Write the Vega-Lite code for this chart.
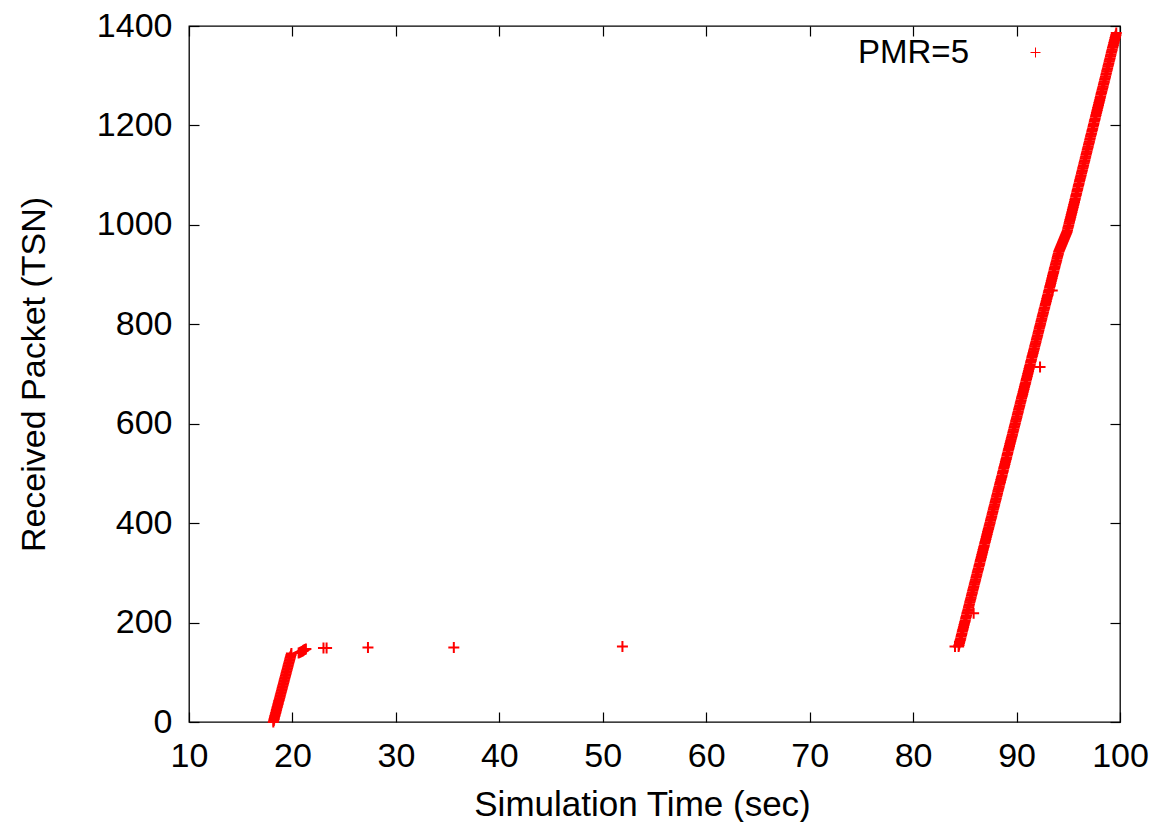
{
  "$schema": "https://vega.github.io/schema/vega-lite/v6.json",
  "width": 931,
  "height": 696,
  "autosize": {"type": "none"},
  "padding": {"left": 189, "top": 26, "right": 36, "bottom": 100},
  "background": "white",
  "config": {
    "view": {"stroke": "black", "strokeWidth": 1.3},
    "axis": {
      "domain": false,
      "grid": false,
      "tickColor": "black",
      "tickSize": -10,
      "tickWidth": 1.2,
      "labelFont": "Liberation Sans",
      "labelFontSize": 34,
      "labelColor": "black",
      "labelPadding": 27,
      "labelFlush": false,
      "labelOverlap": false,
      "format": "d",
      "titleFont": "Liberation Sans",
      "titleFontSize": 34,
      "titleFontWeight": "normal",
      "titleColor": "black"
    }
  },
  "data": {"values": [
    {"t":18.15,"tsn":0},{"t":18.19,"tsn":3},{"t":18.23,"tsn":6},{"t":18.26,"tsn":9},{"t":18.3,"tsn":12},{"t":18.34,"tsn":15},{"t":18.38,"tsn":18},{"t":18.42,"tsn":21},{"t":18.45,"tsn":24},{"t":18.49,"tsn":27},{"t":18.53,"tsn":30},{"t":18.57,"tsn":33},{"t":18.61,"tsn":36},{"t":18.64,"tsn":39},{"t":18.68,"tsn":42},{"t":18.72,"tsn":45},{"t":18.76,"tsn":48},{"t":18.8,"tsn":51},{"t":18.83,"tsn":54},{"t":18.87,"tsn":57},{"t":18.91,"tsn":60},{"t":18.95,"tsn":63},{"t":18.99,"tsn":66},{"t":19.02,"tsn":69},{"t":19.06,"tsn":72},{"t":19.1,"tsn":75},{"t":19.14,"tsn":78},{"t":19.18,"tsn":81},{"t":19.21,"tsn":84},{"t":19.25,"tsn":87},{"t":19.29,"tsn":90},{"t":19.33,"tsn":93},{"t":19.37,"tsn":96},{"t":19.4,"tsn":99},{"t":19.44,"tsn":102},{"t":19.48,"tsn":105},{"t":19.52,"tsn":108},{"t":19.56,"tsn":111},{"t":19.59,"tsn":114},{"t":19.63,"tsn":117},{"t":19.67,"tsn":120},{"t":19.71,"tsn":123},{"t":19.75,"tsn":126},{"t":19.78,"tsn":129},{"t":19.82,"tsn":132},{"t":19.86,"tsn":135},{"t":19.9,"tsn":138},
    {"t":20.6,"tsn":139},{"t":20.7,"tsn":140},{"t":20.8,"tsn":141},{"t":20.9,"tsn":142},{"t":21.0,"tsn":143},{"t":21.05,"tsn":144},{"t":21.1,"tsn":145},{"t":21.2,"tsn":146},{"t":21.3,"tsn":147},
    {"t":23.0,"tsn":149},{"t":23.3,"tsn":149},{"t":27.3,"tsn":150},{"t":35.6,"tsn":150},{"t":51.9,"tsn":152},
    {"t":84.05,"tsn":152},{"t":85.85,"tsn":219},{"t":92.27,"tsn":714},{"t":93.45,"tsn":868},
    {"t":84.4,"tsn":152},{"t":84.44,"tsn":155},{"t":84.48,"tsn":159},{"t":84.52,"tsn":162},{"t":84.56,"tsn":165},{"t":84.6,"tsn":168},{"t":84.64,"tsn":172},{"t":84.68,"tsn":175},{"t":84.72,"tsn":178},{"t":84.76,"tsn":182},
    {"t":84.8,"tsn":185},{"t":84.84,"tsn":188},{"t":84.88,"tsn":191},{"t":84.92,"tsn":195},{"t":84.96,"tsn":198},{"t":85.0,"tsn":201},{"t":85.04,"tsn":204},{"t":85.08,"tsn":208},{"t":85.12,"tsn":211},{"t":85.16,"tsn":214},
    {"t":85.2,"tsn":218},{"t":85.24,"tsn":221},{"t":85.28,"tsn":224},{"t":85.32,"tsn":227},{"t":85.36,"tsn":231},{"t":85.4,"tsn":234},{"t":85.44,"tsn":237},{"t":85.48,"tsn":241},{"t":85.52,"tsn":244},{"t":85.56,"tsn":247},
    {"t":85.6,"tsn":250},{"t":85.64,"tsn":254},{"t":85.68,"tsn":257},{"t":85.72,"tsn":260},{"t":85.76,"tsn":264},{"t":85.8,"tsn":267},{"t":85.84,"tsn":270},{"t":85.88,"tsn":273},{"t":85.92,"tsn":277},{"t":85.96,"tsn":280},
    {"t":86.0,"tsn":283},{"t":86.04,"tsn":286},{"t":86.08,"tsn":290},{"t":86.12,"tsn":293},{"t":86.16,"tsn":296},{"t":86.2,"tsn":300},{"t":86.24,"tsn":303},{"t":86.28,"tsn":306},{"t":86.32,"tsn":309},{"t":86.36,"tsn":313},
    {"t":86.4,"tsn":316},{"t":86.44,"tsn":319},{"t":86.48,"tsn":323},{"t":86.52,"tsn":326},{"t":86.56,"tsn":329},{"t":86.6,"tsn":332},{"t":86.64,"tsn":336},{"t":86.68,"tsn":339},{"t":86.72,"tsn":342},{"t":86.76,"tsn":346},
    {"t":86.8,"tsn":349},{"t":86.84,"tsn":352},{"t":86.88,"tsn":355},{"t":86.92,"tsn":359},{"t":86.96,"tsn":362},{"t":87.0,"tsn":365},{"t":87.04,"tsn":368},{"t":87.08,"tsn":372},{"t":87.12,"tsn":375},{"t":87.16,"tsn":378},
    {"t":87.2,"tsn":382},{"t":87.24,"tsn":385},{"t":87.28,"tsn":388},{"t":87.32,"tsn":391},{"t":87.36,"tsn":395},{"t":87.4,"tsn":398},{"t":87.44,"tsn":401},{"t":87.48,"tsn":405},{"t":87.52,"tsn":408},{"t":87.56,"tsn":411},
    {"t":87.6,"tsn":414},{"t":87.64,"tsn":418},{"t":87.68,"tsn":421},{"t":87.72,"tsn":424},{"t":87.76,"tsn":428},{"t":87.8,"tsn":431},{"t":87.84,"tsn":434},{"t":87.88,"tsn":437},{"t":87.92,"tsn":441},{"t":87.96,"tsn":444},
    {"t":88.0,"tsn":447},{"t":88.04,"tsn":450},{"t":88.08,"tsn":454},{"t":88.12,"tsn":457},{"t":88.16,"tsn":460},{"t":88.2,"tsn":464},{"t":88.24,"tsn":467},{"t":88.28,"tsn":470},{"t":88.32,"tsn":473},{"t":88.36,"tsn":477},
    {"t":88.4,"tsn":480},{"t":88.44,"tsn":483},{"t":88.48,"tsn":487},{"t":88.52,"tsn":490},{"t":88.56,"tsn":493},{"t":88.6,"tsn":496},{"t":88.64,"tsn":500},{"t":88.68,"tsn":503},{"t":88.72,"tsn":506},{"t":88.76,"tsn":510},
    {"t":88.8,"tsn":513},{"t":88.84,"tsn":516},{"t":88.88,"tsn":519},{"t":88.92,"tsn":523},{"t":88.96,"tsn":526},{"t":89.0,"tsn":529},{"t":89.04,"tsn":532},{"t":89.08,"tsn":536},{"t":89.12,"tsn":539},{"t":89.16,"tsn":542},
    {"t":89.2,"tsn":546},{"t":89.24,"tsn":549},{"t":89.28,"tsn":552},{"t":89.32,"tsn":555},{"t":89.36,"tsn":559},{"t":89.4,"tsn":562},{"t":89.44,"tsn":565},{"t":89.48,"tsn":569},{"t":89.52,"tsn":572},{"t":89.56,"tsn":575},
    {"t":89.6,"tsn":578},{"t":89.64,"tsn":582},{"t":89.68,"tsn":585},{"t":89.72,"tsn":588},{"t":89.76,"tsn":592},{"t":89.8,"tsn":595},{"t":89.84,"tsn":598},{"t":89.88,"tsn":601},{"t":89.92,"tsn":605},{"t":89.96,"tsn":608},
    {"t":90.0,"tsn":611},{"t":90.04,"tsn":614},{"t":90.08,"tsn":618},{"t":90.12,"tsn":621},{"t":90.16,"tsn":624},{"t":90.2,"tsn":628},{"t":90.24,"tsn":631},{"t":90.28,"tsn":634},{"t":90.32,"tsn":637},{"t":90.36,"tsn":641},
    {"t":90.4,"tsn":644},{"t":90.44,"tsn":647},{"t":90.48,"tsn":651},{"t":90.52,"tsn":654},{"t":90.56,"tsn":657},{"t":90.6,"tsn":660},{"t":90.64,"tsn":664},{"t":90.68,"tsn":667},{"t":90.72,"tsn":670},{"t":90.76,"tsn":674},
    {"t":90.8,"tsn":677},{"t":90.84,"tsn":680},{"t":90.88,"tsn":683},{"t":90.92,"tsn":687},{"t":90.96,"tsn":690},{"t":91.0,"tsn":693},{"t":91.04,"tsn":696},{"t":91.08,"tsn":700},{"t":91.12,"tsn":703},{"t":91.16,"tsn":706},
    {"t":91.2,"tsn":710},{"t":91.24,"tsn":713},{"t":91.28,"tsn":716},{"t":91.32,"tsn":719},{"t":91.36,"tsn":723},{"t":91.4,"tsn":726},{"t":91.44,"tsn":729},{"t":91.48,"tsn":733},{"t":91.52,"tsn":736},{"t":91.56,"tsn":739},
    {"t":91.6,"tsn":742},{"t":91.64,"tsn":746},{"t":91.68,"tsn":749},{"t":91.72,"tsn":752},{"t":91.76,"tsn":756},{"t":91.8,"tsn":759},{"t":91.84,"tsn":762},{"t":91.88,"tsn":765},{"t":91.92,"tsn":769},{"t":91.96,"tsn":772},
    {"t":92.0,"tsn":775},{"t":92.04,"tsn":778},{"t":92.08,"tsn":782},{"t":92.12,"tsn":785},{"t":92.16,"tsn":788},{"t":92.2,"tsn":792},{"t":92.24,"tsn":795},{"t":92.28,"tsn":798},{"t":92.32,"tsn":801},{"t":92.36,"tsn":805},
    {"t":92.4,"tsn":808},{"t":92.44,"tsn":811},{"t":92.48,"tsn":815},{"t":92.52,"tsn":818},{"t":92.56,"tsn":821},{"t":92.6,"tsn":824},{"t":92.64,"tsn":828},{"t":92.68,"tsn":831},{"t":92.72,"tsn":834},{"t":92.76,"tsn":838},
    {"t":92.8,"tsn":841},{"t":92.84,"tsn":844},{"t":92.88,"tsn":847},{"t":92.92,"tsn":851},{"t":92.96,"tsn":854},{"t":93.0,"tsn":857},{"t":93.04,"tsn":860},{"t":93.08,"tsn":864},{"t":93.12,"tsn":867},{"t":93.16,"tsn":870},
    {"t":93.2,"tsn":874},{"t":93.24,"tsn":877},{"t":93.28,"tsn":880},{"t":93.32,"tsn":883},{"t":93.36,"tsn":887},{"t":93.4,"tsn":890},{"t":93.44,"tsn":893},{"t":93.48,"tsn":897},{"t":93.52,"tsn":900},{"t":93.56,"tsn":903},
    {"t":93.6,"tsn":906},{"t":93.64,"tsn":910},{"t":93.68,"tsn":913},{"t":93.72,"tsn":916},{"t":93.76,"tsn":920},{"t":93.8,"tsn":923},{"t":93.84,"tsn":926},{"t":93.88,"tsn":929},{"t":93.92,"tsn":933},{"t":93.96,"tsn":936},
    {"t":94.0,"tsn":939},{"t":94.04,"tsn":942},{"t":94.08,"tsn":946},
    {"t":94.12,"tsn":948},{"t":94.16,"tsn":950},{"t":94.2,"tsn":952},{"t":94.24,"tsn":954},{"t":94.28,"tsn":956},{"t":94.32,"tsn":958},{"t":94.36,"tsn":960},{"t":94.4,"tsn":962},{"t":94.44,"tsn":964},{"t":94.48,"tsn":966},
    {"t":94.52,"tsn":968},{"t":94.56,"tsn":970},{"t":94.6,"tsn":972},{"t":94.64,"tsn":974},{"t":94.68,"tsn":976},{"t":94.72,"tsn":978},{"t":94.76,"tsn":980},{"t":94.8,"tsn":982},{"t":94.84,"tsn":984},{"t":94.88,"tsn":986},
    {"t":94.92,"tsn":989},{"t":94.96,"tsn":993},{"t":95.0,"tsn":996},{"t":95.04,"tsn":999},{"t":95.08,"tsn":1003},{"t":95.12,"tsn":1006},{"t":95.16,"tsn":1010},{"t":95.2,"tsn":1013},{"t":95.24,"tsn":1016},{"t":95.28,"tsn":1020},
    {"t":95.32,"tsn":1023},{"t":95.36,"tsn":1026},{"t":95.4,"tsn":1030},{"t":95.44,"tsn":1033},{"t":95.48,"tsn":1036},{"t":95.52,"tsn":1040},{"t":95.56,"tsn":1043},{"t":95.6,"tsn":1046},{"t":95.64,"tsn":1050},{"t":95.68,"tsn":1053},
    {"t":95.72,"tsn":1057},{"t":95.76,"tsn":1060},{"t":95.8,"tsn":1063},{"t":95.84,"tsn":1067},{"t":95.88,"tsn":1070},{"t":95.92,"tsn":1073},{"t":95.96,"tsn":1077},{"t":96.0,"tsn":1080},{"t":96.04,"tsn":1083},{"t":96.08,"tsn":1087},
    {"t":96.12,"tsn":1090},{"t":96.16,"tsn":1094},{"t":96.2,"tsn":1097},{"t":96.24,"tsn":1100},{"t":96.28,"tsn":1104},{"t":96.32,"tsn":1107},{"t":96.36,"tsn":1110},{"t":96.4,"tsn":1114},{"t":96.44,"tsn":1117},{"t":96.48,"tsn":1120},
    {"t":96.52,"tsn":1124},{"t":96.56,"tsn":1127},{"t":96.6,"tsn":1130},{"t":96.64,"tsn":1134},{"t":96.68,"tsn":1137},{"t":96.72,"tsn":1141},{"t":96.76,"tsn":1144},{"t":96.8,"tsn":1147},{"t":96.84,"tsn":1151},{"t":96.88,"tsn":1154},
    {"t":96.92,"tsn":1157},{"t":96.96,"tsn":1161},{"t":97.0,"tsn":1164},{"t":97.04,"tsn":1167},{"t":97.08,"tsn":1171},{"t":97.12,"tsn":1174},{"t":97.16,"tsn":1178},{"t":97.2,"tsn":1181},{"t":97.24,"tsn":1184},{"t":97.28,"tsn":1188},
    {"t":97.32,"tsn":1191},{"t":97.36,"tsn":1194},{"t":97.4,"tsn":1198},{"t":97.44,"tsn":1201},{"t":97.48,"tsn":1204},{"t":97.52,"tsn":1208},{"t":97.56,"tsn":1211},{"t":97.6,"tsn":1214},{"t":97.64,"tsn":1218},{"t":97.68,"tsn":1221},
    {"t":97.72,"tsn":1225},{"t":97.76,"tsn":1228},{"t":97.8,"tsn":1231},{"t":97.84,"tsn":1235},{"t":97.88,"tsn":1238},{"t":97.92,"tsn":1241},{"t":97.96,"tsn":1245},{"t":98.0,"tsn":1248},{"t":98.04,"tsn":1251},{"t":98.08,"tsn":1255},
    {"t":98.12,"tsn":1258},{"t":98.16,"tsn":1262},{"t":98.2,"tsn":1265},{"t":98.24,"tsn":1268},{"t":98.28,"tsn":1272},{"t":98.32,"tsn":1275},{"t":98.36,"tsn":1278},{"t":98.4,"tsn":1282},{"t":98.44,"tsn":1285},{"t":98.48,"tsn":1288},
    {"t":98.52,"tsn":1292},{"t":98.56,"tsn":1295},{"t":98.6,"tsn":1298},{"t":98.64,"tsn":1302},{"t":98.68,"tsn":1305},{"t":98.72,"tsn":1309},{"t":98.76,"tsn":1312},{"t":98.8,"tsn":1315},{"t":98.84,"tsn":1319},{"t":98.88,"tsn":1322},
    {"t":98.92,"tsn":1325},{"t":98.96,"tsn":1329},{"t":99.0,"tsn":1332},{"t":99.04,"tsn":1335},{"t":99.08,"tsn":1339},{"t":99.12,"tsn":1342},{"t":99.16,"tsn":1346},{"t":99.2,"tsn":1349},{"t":99.24,"tsn":1352},{"t":99.28,"tsn":1356},
    {"t":99.32,"tsn":1359},{"t":99.36,"tsn":1362},{"t":99.4,"tsn":1366},{"t":99.44,"tsn":1369},{"t":99.48,"tsn":1372},{"t":99.52,"tsn":1376},{"t":99.56,"tsn":1379},{"t":99.6,"tsn":1382},{"t":99.64,"tsn":1386}
  ]},
  "resolve": {"axis": {"x": "independent", "y": "independent"}},
  "layer": [
    {
      "mark": {"type": "point", "shape": "M-1,0L1,0M0,-1L0,1", "filled": false, "size": 121, "strokeWidth": 2, "opacity": 1},
      "encoding": {
        "x": {"field": "t", "type": "quantitative", "scale": {"domain": [10, 100], "nice": false, "zero": false},
              "axis": {"values": [10,20,30,40,50,60,70,80,90,100], "title": "Simulation Time (sec)", "titleFontSize": 35, "titleBaseline": "alphabetic", "titleY": 93, "titleX": 453, "titleAlign": "center"}},
        "y": {"field": "tsn", "type": "quantitative", "scale": {"domain": [0, 1400], "nice": false},
              "axis": {"values": [0,200,400,600,800,1000,1200,1400], "title": "Received Packet (TSN)", "titleBaseline": "alphabetic", "titleX": -145, "titleAngle": -90, "titleAlign": "center"}},
        "color": {"datum": "PMR=5", "type": "nominal", "scale": {"range": ["#ff0000"]},
                  "legend": {"orient": "none", "legendX": 830, "legendY": 10, "title": null, "padding": 0,
                             "labelFont": "Liberation Sans", "labelFontSize": 33, "labelColor": "black",
                             "labelAlign": "right", "labelOffset": -83,
                             "symbolType": "M-1,0L1,0M0,-1L0,1", "symbolSize": 100, "symbolStrokeWidth": 1, "symbolStrokeColor": "#ff0000", "symbolFillColor": "transparent"}}
      }
    },
    {
      "mark": {"type": "point", "opacity": 0},
      "encoding": {
        "x": {"field": "t", "type": "quantitative", "axis": {"orient": "top", "values": [10,20,30,40,50,60,70,80,90,100], "labels": false, "title": null}},
        "y": {"field": "tsn", "type": "quantitative", "axis": {"orient": "right", "values": [0,200,400,600,800,1000,1200,1400], "labels": false, "title": null}}
      }
    }
  ]
}
